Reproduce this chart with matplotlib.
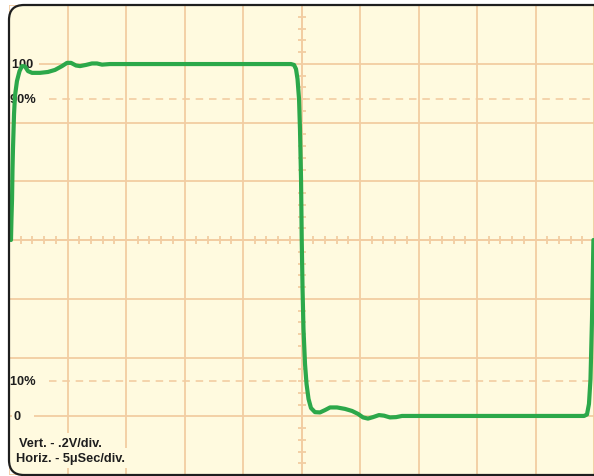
import matplotlib
matplotlib.use("Agg")
import matplotlib.pyplot as plt
from matplotlib.patches import FancyBboxPatch
from matplotlib.ticker import MultipleLocator
from matplotlib.transforms import IdentityTransform, blended_transform_factory

# ---- data: time in microseconds, amplitude in volts (0.2 V/div, 5 us/div) ----
time_us = [0.17, 0.21, 0.26, 0.30, 0.34, 0.43, 0.51, 0.68, 0.90, 1.11, 1.37, 1.62,
           1.97, 2.65, 3.33, 3.93, 4.53, 4.96, 5.30, 5.73, 6.07, 6.58, 7.09, 7.52,
           7.95, 8.63, 16.33, 24.10, 24.36, 24.53, 24.66, 24.79, 24.87, 24.96, 25.02,
           25.09, 25.17, 25.30, 25.43, 25.60, 25.81, 26.15, 26.58, 27.01, 27.44, 28.03,
           28.72, 29.32, 29.83, 30.26, 30.68, 31.11, 31.62, 32.05, 32.56, 33.08, 33.59,
           34.27, 42.0, 49.15, 49.40, 49.57, 49.70, 49.83, 49.95]
volts = [0.0, 0.071, 0.140, 0.242, 0.310, 0.429, 0.490, 0.541, 0.575, 0.592, 0.591, 0.575,
         0.569, 0.569, 0.572, 0.579, 0.592, 0.603, 0.603, 0.594, 0.592, 0.596, 0.601, 0.601,
         0.597, 0.599, 0.599, 0.599, 0.596, 0.582, 0.548, 0.480, 0.378, 0.208, 0.0,
         -0.167, -0.303, -0.422, -0.490, -0.541, -0.572, -0.586, -0.587, -0.579, -0.570, -0.570,
         -0.575, -0.582, -0.592, -0.604, -0.608, -0.603, -0.596, -0.598, -0.604, -0.603, -0.599,
         -0.599, -0.599, -0.599, -0.594, -0.558, -0.473, -0.269, 0.0]

level_labels = ["100 ", "90%  ", "10%  ", "0   "]
level_values = [0.6, 0.48, -0.48, -0.6]
dashed_levels = [0.48, -0.48]
scale_texts = ["Vert. - .2V/div.", "Horiz. - 5\u03bcSec/div."]

BG = "#FFFADF"
GRID = "#F2CDA2"
TRACE = "#2CA84A"
INK = "#1E1E1E"
FS = 9.2

fig = plt.figure(figsize=(5.94, 4.77), dpi=100)
fig.patch.set_facecolor("white")

# rounded screen background (right edge runs off the figure)
screen = FancyBboxPatch((9, 1), 600, 470, boxstyle="round,pad=0,rounding_size=15",
                        transform=IdentityTransform(), facecolor=BG, edgecolor="none",
                        zorder=-5)
fig.patches.append(screen)

ax = fig.add_axes([9 / 594, 1 / 477, 585 / 594, 470 / 477], zorder=1)
ax.patch.set_visible(False)
ax.set_xlim(0, 50)
ax.set_ylim(-0.8, 0.8)

ax.xaxis.set_major_locator(MultipleLocator(5))
ax.yaxis.set_major_locator(MultipleLocator(0.2))
ax.xaxis.set_minor_locator(MultipleLocator(1))
ax.yaxis.set_minor_locator(MultipleLocator(0.04))
ax.grid(True, which="major", color=GRID, lw=1.3)
ax.set_axisbelow(True)

for s in ["top", "right"]:
    ax.spines[s].set_visible(False)
ax.spines["left"].set_position(("data", 25))
ax.spines["bottom"].set_position(("data", 0))
for s in ["left", "bottom"]:
    ax.spines[s].set_color(GRID)
    ax.spines[s].set_linewidth(1.3)
    ax.spines[s].set_zorder(0.5)
ax.tick_params(which="major", length=0, labelbottom=False, labelleft=False)
ax.tick_params(which="minor", direction="inout", length=6, width=1.3, color=GRID)

for lv in dashed_levels:
    ax.axhline(lv, color=GRID, lw=1.2, dashes=(4.5, 3.5), zorder=0.6)

ax.plot(time_us, volts, color=TRACE, lw=3.0, solid_capstyle="round",
        solid_joinstyle="round", zorder=3)

tr = blended_transform_factory(ax.transAxes, ax.transData)
label_x = [3 / 585, 1 / 585, 1 / 585, 5 / 585]
for lab, v, lx in zip(level_labels, level_values, label_x):
    ax.text(lx, v, lab, transform=tr, ha="left", va="center", fontsize=FS,
            fontweight="bold", family="Liberation Sans", color=INK, zorder=2,
            bbox=dict(boxstyle="square,pad=0.15", facecolor=BG, edgecolor="none"))

ax.text(10 / 585, 32 / 470, scale_texts[0], transform=ax.transAxes, ha="left",
        va="center", fontsize=FS, fontweight="bold", family="Liberation Sans",
        color=INK, zorder=2,
        bbox=dict(boxstyle="square,pad=0.3", facecolor=BG, edgecolor="none"))
ax.text(7 / 585, 17 / 470, scale_texts[1], transform=ax.transAxes, ha="left",
        va="center", fontsize=FS, fontweight="bold", family="Liberation Sans",
        color=INK, zorder=2.1,
        bbox=dict(boxstyle="square,pad=0.3", facecolor=BG, edgecolor="none"))

border = FancyBboxPatch((9, 1), 600, 470, boxstyle="round,pad=0,rounding_size=15",
                        transform=IdentityTransform(), facecolor="none",
                        edgecolor=INK, lw=1.6, zorder=10)
fig.patches.append(border)

fig.savefig("out.png", dpi=100, facecolor="white")
